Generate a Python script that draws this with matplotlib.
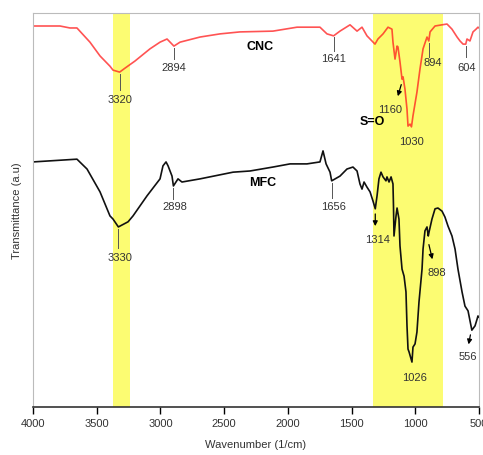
import matplotlib
import matplotlib.pyplot as plt

matplotlib.use("Agg")

plt.rcParams["font.family"] = ["Liberation Sans", "DejaVu Sans"]

# FTIR spectra (wavenumber in 1/cm, transmittance in a.u.)
cnc_wn = [4000, 3788, 3710, 3655, 3553, 3474, 3396, 3372, 3320, 3278, 3200, 3082,
          3003, 2948, 2894, 2846, 2689, 2532, 2376, 2117, 1928, 1748, 1693, 1641,
          1591, 1512, 1457, 1418, 1379, 1340, 1316, 1293, 1253, 1214, 1183, 1175,
          1159, 1143, 1136, 1120, 1104, 1096, 1081, 1065, 1057, 1041, 1030, 1018,
          987, 963, 939, 908, 894, 884, 845, 790, 751, 712, 672, 649, 625, 604,
          594, 571, 547, 523, 508, 500]
cnc_t = [96.7, 96.7, 96.2, 96.2, 92.6, 89.1, 86.5, 85.5, 85.0, 86.0, 87.8, 90.9,
         92.6, 93.4, 91.6, 92.6, 93.9, 94.7, 95.2, 95.4, 96.4, 96.4, 94.7, 94.2,
         95.4, 97.0, 95.4, 96.4, 94.2, 92.9, 92.1, 93.4, 94.7, 96.4, 95.9, 92.6,
         88.3, 91.6, 91.4, 87.6, 83.2, 83.8, 80.7, 75.6, 71.3, 71.8, 71.1, 73.9,
         79.9, 85.8, 90.9, 93.9, 92.9, 95.2, 96.7, 97.0, 97.2, 95.9, 93.9, 92.9,
         92.1, 92.1, 93.4, 92.9, 95.2, 95.9, 96.4, 96.2]

mfc_wn = [4000, 3655, 3576, 3474, 3396, 3372, 3330, 3254, 3215, 3105, 3003, 2980,
          2956, 2940, 2909, 2898, 2862, 2831, 2689, 2430, 2297, 2117, 1983, 1850,
          1748, 1724, 1700, 1669, 1656, 1591, 1536, 1489, 1457, 1434, 1418, 1402,
          1379, 1355, 1332, 1314, 1300, 1285, 1269, 1253, 1230, 1222, 1206, 1190,
          1175, 1171, 1167, 1151, 1143, 1128, 1120, 1104, 1088, 1073, 1065, 1057,
          1049, 1026, 1018, 1002, 987, 971, 947, 939, 924, 908, 898, 892, 869,
          845, 822, 790, 767, 743, 712, 688, 665, 633, 610, 586, 556, 531, 515,
          508, 500]
mfc_t = [62.2, 62.9, 60.4, 54.6, 48.5, 47.7, 45.7, 47.0, 48.5, 53.6, 57.9, 61.2,
         62.2, 61.2, 58.6, 56.1, 57.9, 57.1, 57.9, 59.6, 59.9, 60.9, 61.7, 61.7,
         62.2, 65.0, 61.7, 59.6, 57.4, 58.6, 60.4, 60.9, 59.9, 56.6, 55.3, 57.1,
         55.8, 54.6, 52.3, 50.3, 53.6, 57.9, 59.6, 58.4, 57.4, 58.4, 57.1, 58.4,
         56.6, 51.0, 43.4, 48.5, 50.5, 47.7, 40.9, 35.0, 33.2, 29.2, 20.6, 14.7,
         14.0, 11.4, 15.2, 16.0, 19.0, 26.6, 35.0, 40.1, 44.7, 45.7, 43.4, 44.4,
         47.7, 50.3, 50.5, 49.7, 48.2, 45.9, 43.4, 40.1, 35.0, 29.2, 25.6, 24.4,
         19.5, 20.6, 22.3, 23.1, 22.8]

bands = [(3375, 3235), (1329, 780)]
x_ticks = [4000, 3500, 3000, 2500, 2000, 1500, 1000, 500]

fig = plt.figure(figsize=(4.83, 4.56), dpi=100)
ax = fig.add_axes([0.0683, 0.1053, 0.9234, 0.864])

for lo, hi in bands:
    ax.axvspan(lo, hi, color="#fcfc72", zorder=0, lw=0)

ax.plot(cnc_wn, cnc_t, color="#ff1a1a", lw=1.2, alpha=0.75, zorder=2)
ax.plot(mfc_wn, mfc_t, color="#111111", lw=1.2, zorder=2)

fs = 8
tick_col = "#333333"


def peak_line(x, y0, y1, label, lx=None, ly=None):
    ax.plot([x, x], [y0, y1], color="#555555", lw=0.7, zorder=3)
    ax.text(x if lx is None else lx, y1 - 2.2 if ly is None else ly, label,
            ha="center", va="center", fontsize=fs, color=tick_col)


def peak_arrow(x0, y0, x1, y1, label, lx, ly):
    ax.annotate("", xy=(x1, y1), xytext=(x0, y0),
                arrowprops=dict(arrowstyle="-|>", color="black", lw=0.9,
                                mutation_scale=7), zorder=3)
    ax.text(lx, ly, label, ha="center", va="center", fontsize=fs, color=tick_col)


# CNC labels
peak_line(3320, 84.5, 80.5, "3320", ly=78.2)
peak_line(2894, 91.0, 88.3, "2894", ly=86.3)
peak_line(1641, 93.8, 90.4, "1641", ly=88.6)
peak_line(894, 92.4, 88.8, "894", lx=861, ly=87.6)
peak_line(604, 91.6, 88.8, "604", lx=594, ly=86.3)
peak_arrow(1104, 82.5, 1143, 78.2, "1160", 1198, 75.6)
ax.text(1339, 72.6, "S=O", ha="center", va="center", fontsize=9, fontweight="bold")
ax.text(1030, 67.5, "1030", ha="center", va="center", fontsize=fs, color=tick_col)
ax.text(2218, 91.6, "CNC", ha="center", va="center", fontsize=9, fontweight="bold")

# MFC labels
ax.text(2195, 57.1, "MFC", ha="center", va="center", fontsize=9, fontweight="bold")
peak_line(2898, 55.6, 52.8, "2898", lx=2885, ly=51.0)
peak_line(1656, 56.9, 53.0, "1656", lx=1640, ly=51.0)
peak_line(3330, 45.2, 40.3, "3330", lx=3317, ly=38.1)
peak_arrow(1314, 49.7, 1314, 45.2, "1314", 1300, 42.6)
peak_arrow(898, 41.9, 861, 36.8, "898", 830, 34.3)
ax.text(1002, 7.6, "1026", ha="center", va="center", fontsize=fs, color=tick_col)
peak_arrow(563, 19.0, 586, 15.2, "556", 586, 12.9)

ax.set_xlim(4000, 500)
ax.set_ylim(0, 100)
ax.set_xticks(x_ticks)
ax.set_xticklabels([str(t) for t in x_ticks])
ax.set_yticks([])
ax.tick_params(axis="x", direction="out", length=5, width=1, labelsize=fs,
               labelcolor=tick_col, pad=3)

for side in ["top", "right", "left"]:
    ax.spines[side].set_color("#bbbbbb")
    ax.spines[side].set_linewidth(0.8)
ax.spines["bottom"].set_color("#333333")
ax.spines["bottom"].set_linewidth(1.2)

ax.set_xlabel("Wavenumber (1/cm)", fontsize=fs, color=tick_col, labelpad=8)
ax.set_ylabel("Transmittance (a.u)", fontsize=fs, color=tick_col, labelpad=8)

fig.savefig("out.png", dpi=100)
plt.close(fig)
